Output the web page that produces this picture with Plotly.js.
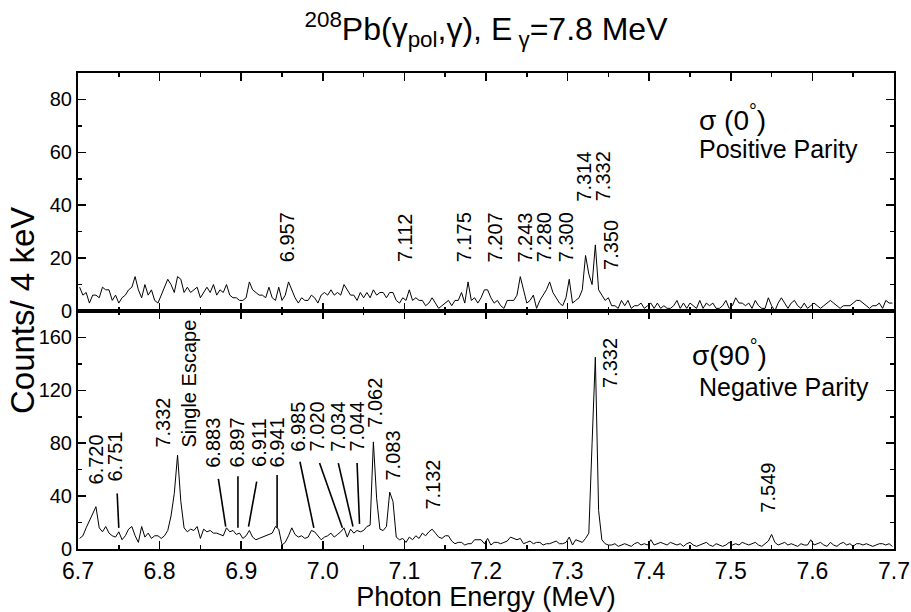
<!DOCTYPE html>
<html><head><meta charset="utf-8">
<script src="https://cdn.plot.ly/plotly-3.0.1.min.js"></script>
<style>html,body{margin:0;padding:0;background:#fff}#chart{width:911px;height:612px}</style>
</head><body><div id="chart"></div>
<script>
// Spectrum binning (4 keV bins starting at 6.7 MeV)
const binStart = 6.7;
const binWidth = 0.004;

// sigma(0 deg) – positive parity, counts per 4 keV bin
const counts0 = [
 9,6,7,3,6,6,5,9,8,8,4,6,3,5,6,8,9,13,8,5,10,6,8,4,3,
 6,9,12,10,7,13,12,7,9,7,8,9,5,7,9,7,10,6,8,7,10,6,5,5,4,
 4,5,11,8,7,6,6,5,9,5,4,9,4,6,11,8,5,3,5,4,4,6,5,3,6,
 7,6,8,6,7,6,10,8,6,6,4,7,5,7,5,8,6,7,7,5,7,7,4,3,5,
 4,8,4,5,4,4,2,3,5,3,1,2,3,4,2,4,4,7,3,11,
 4,5,3,5,8,8,5,3,4,2,1,4,4,4,6,13,8,3,4,6,1,4,6,8,11,7,5,3,2,5,12,3,4,5,8,21,14,10,25,8,6,4,5,2,2,1,4,
 2,4,1,2,2,3,1,2,3,1, 3,1,2,1,1,2,4,1,3,1, 3,2,1,4,1,3,2,3,1,1, 2,4,1,2,5,3,3,2,3,1,
 4,2,1,1,5,2,0,3,5,3, 1,3,4,2,1,3,1,2,3,2, 1,2,3,4,3,2,1,2,2,2, 3,4,4,3,2,1,2,2,3,1, 4,3,3
];

// sigma(90 deg) – negative parity, counts per 4 keV bin
const counts90 = [
 8,10,16,21,27,32,16,13,17,12,10,9,13,7,10,15,17,10,5,17,9,12,8,10,10,
 8,10,14,25,42,71,36,16,13,15,14,17,8,15,13,14,12,12,11,10,16,13,14,11,12,
 8,10,14,9,7,8,9,10,11,12,17,15,3,5,10,16,11,9,10,8,9,14,13,10,7,
 9,10,12,9,11,13,16,9,15,12,14,13,14,17,18,81,38,15,14,17,43,36,9,7,8,
 5,9,7,10,8,12,10,13,15,12,9,8,10,10,6,4,5,5,3,4,4,7,7,7,4,
 8,3,5,5,4,5,6,9,8,7,8,4,5,6,4,5,5,3,4,4,5,6,4,4,5,
 9,3,7,6,5,8,12,80,145,29,7,4,3,3,4,2,
 3,4,3,2,4,5,3,4,3,7, 3,4,5,4,3,5,4,3,4,2, 4,5,3,2,3,4,5,3,2,4, 3,2,3,5,3,4,3,5,4,3,
 4,5,3,2,4,6,11,5,3,4, 5,3,4,3,2,4,3,3,7,3, 4,5,3,2,5,3,2,4,5,3, 4,2,4,4,3,4,3,2,3,4, 4,3,4,2
];

// Peak labels (MeV)
const labels0 = ["6.957","7.112","7.175","7.207","7.243","7.280","7.300","7.314","7.332","7.350"];
const labels90 = ["6.720","6.751","7.332<br>Single Escape","6.883","6.897","6.911","6.941","6.985","7.020","7.034","7.044","7.062","7.083","7.132","7.332","7.549"];

const energy0 = counts0.map((_, i) => binStart + binWidth * (i + 0.5));
const energy90 = counts90.map((_, i) => binStart + binWidth * (i + 0.5));

const FONT = 'Liberation Sans, Arial, Helvetica, sans-serif';

// annotation placement (label centre energy, label bottom in counts)
const pos0 = [[6.956,18],[7.101,18],[7.174,18],[7.211,18],[7.248,18],[7.272,18],[7.299,18],[7.319,41],[7.343,41],[7.354,15]];
const pos90 = [[6.722,48],[6.745,50],[6.819,76],[6.866,61],[6.895,61],[6.922,61],[6.944,61],[6.970,73],[6.994,73],[7.019,73],[7.042,73],[7.064,91],[7.086,51],[7.135,29],[7.352,121],[7.546,27]];
// leader lines [x0,y0,x1,y1] in data units
const leaders = [[6.748,42,6.750,16],[6.872,53,6.881,17],[6.896,55,6.896,16],[6.919,51,6.909,17],[6.944,56,6.944,16],
  [6.972,66,6.989,16],[6.996,65,7.024,16],[7.019,65,7.037,17],[7.042,65,7.045,19]];

const annotations = [];
labels0.forEach((t, i) => annotations.push({
  text: t, xref: 'x2', yref: 'y2', x: pos0[i][0], y: pos0[i][1], textangle: -90,
  xanchor: 'center', yanchor: 'bottom', showarrow: false, borderpad: 0,
  font: {family: FONT, size: 20, color: '#000'}
}));
labels90.forEach((t, i) => annotations.push({
  text: t, xref: 'x', yref: 'y', x: pos90[i][0], y: pos90[i][1], textangle: -90,
  xanchor: 'center', yanchor: 'bottom', showarrow: false, borderpad: 0, align: 'left',
  font: {family: FONT, size: 20, color: '#000'}
}));
annotations.push(
  {text: 'σ (0<sup>°</sup>)', xref: 'paper', yref: 'paper', x: 0.7586, y: 0.9055, xanchor: 'left', yanchor: 'middle', showarrow: false, font: {family: FONT, size: 28, color: '#000'}},
  {text: 'Positive Parity', xref: 'paper', yref: 'paper', x: 0.7586, y: 0.840, xanchor: 'left', yanchor: 'middle', showarrow: false, font: {family: FONT, size: 25, color: '#000'}},
  {text: 'σ(90<sup>°</sup>)', xref: 'paper', yref: 'paper', x: 0.750, y: 0.4118, xanchor: 'left', yanchor: 'middle', showarrow: false, font: {family: FONT, size: 28, color: '#000'}},
  {text: 'Negative Parity', xref: 'paper', yref: 'paper', x: 0.7586, y: 0.3403, xanchor: 'left', yanchor: 'middle', showarrow: false, font: {family: FONT, size: 25, color: '#000'}},
  {text: 'Counts/ 4 keV', xref: 'paper', yref: 'paper', x: -0.0686, y: 0.5, xanchor: 'center', yanchor: 'middle', textangle: -90, showarrow: false, font: {family: FONT, size: 33, color: '#000'}}
);

const shapes = leaders.map(l => ({type: 'line', xref: 'x', yref: 'y', x0: l[0], y0: l[1], x1: l[2], y1: l[3], line: {color: '#000', width: 1.6}}));

const xCommon = {
  range: [6.7, 7.7], tick0: 6.7, dtick: 0.1, ticks: 'inside', ticklen: 8, tickwidth: 1.6, tickcolor: '#000',
  minor: {dtick: 0.05, ticklen: 4, tickwidth: 1.6, ticks: 'inside', tickcolor: '#000'},
  showline: true, linewidth: 2, linecolor: '#000', mirror: 'ticks', showgrid: false, zeroline: false,
  tickfont: {family: FONT, size: 23, color: '#000'}, tickformat: '.1f'
};
const yCommon = {
  ticks: 'inside', ticklen: 8, tickwidth: 1.6, tickcolor: '#000',
  showline: true, linewidth: 2, linecolor: '#000', mirror: 'ticks', showgrid: false, zeroline: false,
  tickfont: {family: FONT, size: 20, color: '#000'}
};

const traces = [
  {x: energy90, y: counts90, xaxis: 'x', yaxis: 'y', type: 'scatter', mode: 'lines', line: {color: '#000', width: 1}, hoverinfo: 'skip'},
  {x: energy0, y: counts0, xaxis: 'x2', yaxis: 'y2', type: 'scatter', mode: 'lines', line: {color: '#000', width: 1}, hoverinfo: 'skip'}
];

const layout = {
  width: 911, height: 612,
  margin: {l: 78, r: 17, t: 73, b: 63},
  paper_bgcolor: '#fff', plot_bgcolor: '#fff',
  showlegend: false,
  title: {text: '<sup>208</sup>Pb(γ<sub>pol</sub>,γ), E<sub> γ</sub>=7.8 MeV', x: 0.5, xref: 'paper', y: 0.953, yref: 'container', yanchor: 'middle',
    font: {family: FONT, size: 32, color: '#000'}},
  xaxis: Object.assign({}, xCommon, {anchor: 'y', domain: [0, 1],
    title: {text: 'Photon Energy (MeV)', standoff: 12, font: {family: FONT, size: 27, color: '#000'}}}),
  xaxis2: Object.assign({}, xCommon, {anchor: 'y2', domain: [0, 1], matches: 'x', showticklabels: false}),
  yaxis: Object.assign({}, yCommon, {anchor: 'x', domain: [0, 0.5], range: [0, 180], tick0: 0, dtick: 40,
    minor: {dtick: 20, ticklen: 4, tickwidth: 1.6, ticks: 'inside', tickcolor: '#000'}}),
  yaxis2: Object.assign({}, yCommon, {anchor: 'x2', domain: [0.5, 1], range: [0, 90], tick0: 0, dtick: 20,
    minor: {dtick: 10, ticklen: 4, tickwidth: 1.6, ticks: 'inside', tickcolor: '#000'}}),
  annotations: annotations,
  shapes: shapes
};

Plotly.newPlot('chart', traces, layout, {staticPlot: true, displayModeBar: false});
</script>
</body></html>
